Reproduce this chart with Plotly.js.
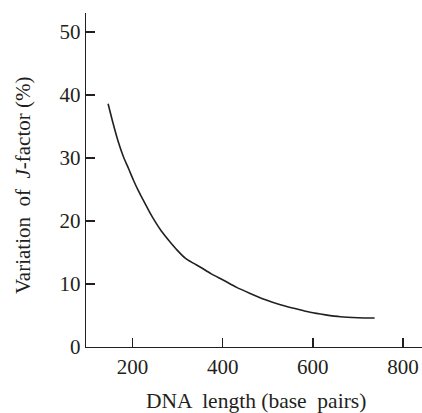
<!DOCTYPE html>
<html>
<head>
<meta charset="utf-8">
<script src="https://cdn.plot.ly/plotly-3.0.1.min.js"></script>
<style>html,body{margin:0;padding:0;background:#fff;}#chart{width:422px;height:413px;}</style>
</head>
<body>
<div id="chart"></div>
<script>
const dnaLength = [146, 157, 168, 180, 192, 202, 213, 224, 235, 246, 264, 283, 300, 317, 335, 350, 375, 402, 430, 461, 495, 528, 560, 594, 628, 661, 700, 737];
const jVariation = [38.6, 35.5, 32.7, 30.2, 28.2, 26.5, 24.8, 23.3, 21.8, 20.4, 18.4, 16.7, 15.3, 14.1, 13.3, 12.7, 11.6, 10.6, 9.5, 8.5, 7.5, 6.7, 6.1, 5.5, 5.1, 4.8, 4.65, 4.6];
const xTicks = [200, 400, 600, 800];
const yTicks = [0, 10, 20, 30, 40, 50];
const xTitle = "DNA  length (base  pairs)";
const yTitle = "Variation  of  <i>J</i>-factor (%)";

const ink = '#231f20';
const serifFam = 'Liberation Serif';
const trace = {
  x: dnaLength, y: jVariation, type: 'scatter', mode: 'lines',
  line: {color: ink, width: 1.6, shape: 'spline', smoothing: 0.8},
  hoverinfo: 'skip'
};
const tickFont = {family: serifFam, size: 21, color: ink};
const layout = {
  width: 422, height: 413,
  margin: {l: 86, r: 0, t: 13, b: 66},
  paper_bgcolor: '#fff', plot_bgcolor: '#fff',
  showlegend: false,
  xaxis: {
    range: [97, 842], tickvals: xTicks, ticktext: xTicks.map(String),
    ticks: 'inside', ticklen: 9, tickwidth: 1.3, tickcolor: ink,
    showline: true, linecolor: ink, linewidth: 1.3,
    showgrid: false, zeroline: false, tickfont: tickFont
  },
  yaxis: {
    range: [0, 53], tickvals: yTicks, ticktext: yTicks.map(String),
    ticks: 'inside', ticklen: 9, tickwidth: 1.3, tickcolor: ink,
    showline: true, linecolor: ink, linewidth: 1.3,
    showgrid: false, zeroline: false, tickfont: tickFont
  },
  annotations: [
    {text: xTitle, xref: 'paper', yref: 'paper', x: 0.506, y: -0.162,
     xanchor: 'center', yanchor: 'middle', showarrow: false,
     font: {family: serifFam, size: 21.5, color: ink}},
    {text: yTitle, xref: 'paper', yref: 'paper', x: -0.1875, y: 0.485, textangle: -90,
     xanchor: 'center', yanchor: 'middle', showarrow: false,
     font: {family: serifFam, size: 21, color: ink}}
  ]
};
Plotly.newPlot('chart', [trace], layout, {displayModeBar: false, staticPlot: true});
</script>
</body>
</html>
